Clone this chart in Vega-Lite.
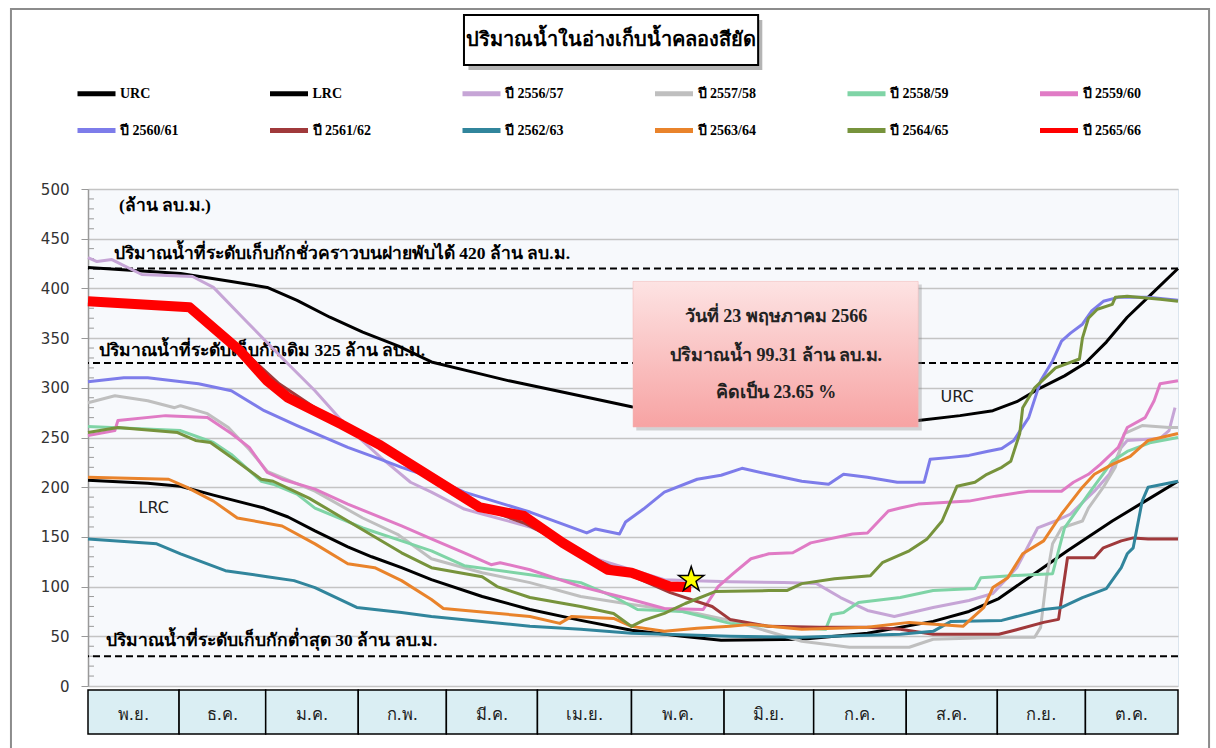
{
  "$schema": "https://vega.github.io/schema/vega-lite/v6.json",
  "padding": {"left": 9, "top": 7, "right": 0, "bottom": 0},
  "background": "white",
  "config": {"view": {"stroke": null}, "font": "DejaVu Sans"},
  "datasets": {
    "series": [
      {"s":"URC","d":0,"v":421},{"s":"URC","d":31,"v":415},{"s":"URC","d":48,"v":407},{"s":"URC","d":60,"v":401},{"s":"URC","d":70,"v":388},{"s":"URC","d":81,"v":371},{"s":"URC","d":92,"v":356},{"s":"URC","d":104,"v":342},{"s":"URC","d":115,"v":326},{"s":"URC","d":130,"v":315},{"s":"URC","d":141,"v":307},{"s":"URC","d":160,"v":295},{"s":"URC","d":182,"v":281},{"s":"URC","d":200,"v":274},{"s":"URC","d":230,"v":268},{"s":"URC","d":260,"v":264},{"s":"URC","d":278,"v":267},{"s":"URC","d":292,"v":272},{"s":"URC","d":303,"v":277},{"s":"URC","d":311,"v":286},{"s":"URC","d":319,"v":300},{"s":"URC","d":327,"v":312},{"s":"URC","d":334,"v":325},{"s":"URC","d":341,"v":346},{"s":"URC","d":348,"v":371},{"s":"URC","d":356,"v":394},{"s":"URC","d":365,"v":420},
      {"s":"LRC","d":0,"v":207},{"s":"LRC","d":20,"v":204},{"s":"LRC","d":31,"v":201},{"s":"LRC","d":42,"v":192},{"s":"LRC","d":59,"v":179},{"s":"LRC","d":67,"v":170},{"s":"LRC","d":76,"v":156},{"s":"LRC","d":87,"v":140},{"s":"LRC","d":95,"v":130},{"s":"LRC","d":105,"v":119},{"s":"LRC","d":115,"v":107},{"s":"LRC","d":132,"v":90},{"s":"LRC","d":148,"v":77},{"s":"LRC","d":165,"v":66},{"s":"LRC","d":182,"v":56},{"s":"LRC","d":199,"v":50},{"s":"LRC","d":212,"v":46},{"s":"LRC","d":239,"v":47},{"s":"LRC","d":261,"v":53},{"s":"LRC","d":283,"v":65},{"s":"LRC","d":295,"v":75},{"s":"LRC","d":305,"v":88},{"s":"LRC","d":315,"v":109},{"s":"LRC","d":328,"v":136},{"s":"LRC","d":343,"v":166},{"s":"LRC","d":354,"v":186},{"s":"LRC","d":365,"v":206},
      {"s":"ปี 2556/57","d":0,"v":431},{"s":"ปี 2556/57","d":3,"v":427},{"s":"ปี 2556/57","d":8,"v":429},{"s":"ปี 2556/57","d":18,"v":414},{"s":"ปี 2556/57","d":35,"v":412},{"s":"ปี 2556/57","d":42,"v":401},{"s":"ปี 2556/57","d":53,"v":367},{"s":"ปี 2556/57","d":65,"v":330},{"s":"ปี 2556/57","d":76,"v":297},{"s":"ปี 2556/57","d":87,"v":260},{"s":"ปี 2556/57","d":98,"v":230},{"s":"ปี 2556/57","d":108,"v":205},{"s":"ปี 2556/57","d":115,"v":195},{"s":"ปี 2556/57","d":126,"v":178},{"s":"ปี 2556/57","d":132,"v":173},{"s":"ปี 2556/57","d":148,"v":160},{"s":"ปี 2556/57","d":160,"v":145},{"s":"ปี 2556/57","d":171,"v":127},{"s":"ปี 2556/57","d":182,"v":117},{"s":"ปี 2556/57","d":193,"v":107},{"s":"ปี 2556/57","d":203,"v":106},{"s":"ปี 2556/57","d":215,"v":105},{"s":"ปี 2556/57","d":233,"v":104},{"s":"ปี 2556/57","d":244,"v":103},{"s":"ปี 2556/57","d":252,"v":89},{"s":"ปี 2556/57","d":261,"v":76},{"s":"ปี 2556/57","d":270,"v":70},{"s":"ปี 2556/57","d":283,"v":79},{"s":"ปี 2556/57","d":295,"v":86},{"s":"ปี 2556/57","d":303,"v":93},{"s":"ปี 2556/57","d":311,"v":119},{"s":"ปี 2556/57","d":318,"v":159},{"s":"ปี 2556/57","d":324,"v":166},{"s":"ปี 2556/57","d":329,"v":173},{"s":"ปี 2556/57","d":337,"v":196},{"s":"ปี 2556/57","d":342,"v":213},{"s":"ปี 2556/57","d":346,"v":240},{"s":"ปี 2556/57","d":348,"v":247},{"s":"ปี 2556/57","d":359,"v":249},{"s":"ปี 2556/57","d":362,"v":257},{"s":"ปี 2556/57","d":364,"v":280},
      {"s":"ปี 2557/58","d":0,"v":285},{"s":"ปี 2557/58","d":9,"v":292},{"s":"ปี 2557/58","d":20,"v":287},{"s":"ปี 2557/58","d":29,"v":280},{"s":"ปี 2557/58","d":31,"v":282},{"s":"ปี 2557/58","d":40,"v":274},{"s":"ปี 2557/58","d":47,"v":260},{"s":"ปี 2557/58","d":54,"v":238},{"s":"ปี 2557/58","d":60,"v":216},{"s":"ปี 2557/58","d":76,"v":196},{"s":"ปี 2557/58","d":92,"v":169},{"s":"ปี 2557/58","d":104,"v":152},{"s":"ปี 2557/58","d":115,"v":128},{"s":"ปี 2557/58","d":132,"v":114},{"s":"ปี 2557/58","d":148,"v":104},{"s":"ปี 2557/58","d":165,"v":90},{"s":"ปี 2557/58","d":182,"v":82},{"s":"ปี 2557/58","d":204,"v":73},{"s":"ปี 2557/58","d":215,"v":66},{"s":"ปี 2557/58","d":222,"v":60},{"s":"ปี 2557/58","d":239,"v":45},{"s":"ปี 2557/58","d":255,"v":39},{"s":"ปี 2557/58","d":275,"v":39},{"s":"ปี 2557/58","d":283,"v":47},{"s":"ปี 2557/58","d":306,"v":49},{"s":"ปี 2557/58","d":317,"v":49},{"s":"ปี 2557/58","d":319,"v":59},{"s":"ปี 2557/58","d":321,"v":109},{"s":"ปี 2557/58","d":323,"v":143},{"s":"ปี 2557/58","d":326,"v":159},{"s":"ปี 2557/58","d":333,"v":166},{"s":"ปี 2557/58","d":335,"v":179},{"s":"ปี 2557/58","d":340,"v":200},{"s":"ปี 2557/58","d":344,"v":220},{"s":"ปี 2557/58","d":347,"v":254},{"s":"ปี 2557/58","d":353,"v":262},{"s":"ปี 2557/58","d":362,"v":260},{"s":"ปี 2557/58","d":365,"v":260},
      {"s":"ปี 2558/59","d":0,"v":261},{"s":"ปี 2558/59","d":31,"v":257},{"s":"ปี 2558/59","d":42,"v":245},{"s":"ปี 2558/59","d":48,"v":233},{"s":"ปี 2558/59","d":58,"v":206},{"s":"ปี 2558/59","d":62,"v":203},{"s":"ปี 2558/59","d":70,"v":193},{"s":"ปี 2558/59","d":76,"v":179},{"s":"ปี 2558/59","d":92,"v":159},{"s":"ปี 2558/59","d":105,"v":146},{"s":"ปี 2558/59","d":115,"v":136},{"s":"ปี 2558/59","d":126,"v":121},{"s":"ปี 2558/59","d":148,"v":112},{"s":"ปี 2558/59","d":165,"v":104},{"s":"ปี 2558/59","d":176,"v":90},{"s":"ปี 2558/59","d":184,"v":77},{"s":"ปี 2558/59","d":199,"v":75},{"s":"ปี 2558/59","d":215,"v":63},{"s":"ปี 2558/59","d":228,"v":60},{"s":"ปี 2558/59","d":247,"v":57},{"s":"ปี 2558/59","d":249,"v":72},{"s":"ปี 2558/59","d":253,"v":74},{"s":"ปี 2558/59","d":258,"v":84},{"s":"ปี 2558/59","d":272,"v":89},{"s":"ปี 2558/59","d":283,"v":96},{"s":"ปี 2558/59","d":297,"v":98},{"s":"ปี 2558/59","d":299,"v":109},{"s":"ปี 2558/59","d":309,"v":111},{"s":"ปี 2558/59","d":323,"v":113},{"s":"ปี 2558/59","d":327,"v":159},{"s":"ปี 2558/59","d":335,"v":193},{"s":"ปี 2558/59","d":343,"v":226},{"s":"ปี 2558/59","d":348,"v":236},{"s":"ปี 2558/59","d":356,"v":245},{"s":"ปี 2558/59","d":365,"v":250},
      {"s":"ปี 2559/60","d":0,"v":252},{"s":"ปี 2559/60","d":9,"v":257},{"s":"ปี 2559/60","d":10,"v":267},{"s":"ปี 2559/60","d":26,"v":272},{"s":"ปี 2559/60","d":40,"v":270},{"s":"ปี 2559/60","d":48,"v":254},{"s":"ปี 2559/60","d":54,"v":240},{"s":"ปี 2559/60","d":60,"v":215},{"s":"ปี 2559/60","d":65,"v":208},{"s":"ปี 2559/60","d":76,"v":198},{"s":"ปี 2559/60","d":87,"v":183},{"s":"ปี 2559/60","d":105,"v":161},{"s":"ปี 2559/60","d":115,"v":148},{"s":"ปี 2559/60","d":126,"v":134},{"s":"ปี 2559/60","d":135,"v":122},{"s":"ปี 2559/60","d":138,"v":124},{"s":"ปี 2559/60","d":148,"v":117},{"s":"ปี 2559/60","d":165,"v":100},{"s":"ปี 2559/60","d":182,"v":87},{"s":"ปี 2559/60","d":193,"v":78},{"s":"ปี 2559/60","d":206,"v":77},{"s":"ปี 2559/60","d":211,"v":100},{"s":"ปี 2559/60","d":216,"v":113},{"s":"ปี 2559/60","d":222,"v":128},{"s":"ปี 2559/60","d":228,"v":133},{"s":"ปี 2559/60","d":236,"v":134},{"s":"ปี 2559/60","d":242,"v":144},{"s":"ปี 2559/60","d":256,"v":153},{"s":"ปี 2559/60","d":261,"v":154},{"s":"ปี 2559/60","d":268,"v":176},{"s":"ปี 2559/60","d":272,"v":179},{"s":"ปี 2559/60","d":278,"v":183},{"s":"ปี 2559/60","d":295,"v":186},{"s":"ปี 2559/60","d":304,"v":191},{"s":"ปี 2559/60","d":315,"v":196},{"s":"ปี 2559/60","d":326,"v":196},{"s":"ปี 2559/60","d":330,"v":205},{"s":"ปี 2559/60","d":335,"v":213},{"s":"ปี 2559/60","d":339,"v":223},{"s":"ปี 2559/60","d":345,"v":240},{"s":"ปี 2559/60","d":348,"v":260},{"s":"ปี 2559/60","d":354,"v":270},{"s":"ปี 2559/60","d":357,"v":287},{"s":"ปี 2559/60","d":359,"v":304},{"s":"ปี 2559/60","d":365,"v":307},
      {"s":"ปี 2560/61","d":0,"v":306},{"s":"ปี 2560/61","d":12,"v":310},{"s":"ปี 2560/61","d":20,"v":310},{"s":"ปี 2560/61","d":37,"v":304},{"s":"ปี 2560/61","d":48,"v":297},{"s":"ปี 2560/61","d":59,"v":277},{"s":"ปี 2560/61","d":70,"v":262},{"s":"ปี 2560/61","d":87,"v":240},{"s":"ปี 2560/61","d":98,"v":228},{"s":"ปี 2560/61","d":105,"v":220},{"s":"ปี 2560/61","d":115,"v":210},{"s":"ปี 2560/61","d":126,"v":195},{"s":"ปี 2560/61","d":148,"v":175},{"s":"ปี 2560/61","d":167,"v":154},{"s":"ปี 2560/61","d":170,"v":158},{"s":"ปี 2560/61","d":178,"v":153},{"s":"ปี 2560/61","d":180,"v":165},{"s":"ปี 2560/61","d":186,"v":178},{"s":"ปี 2560/61","d":193,"v":195},{"s":"ปี 2560/61","d":204,"v":208},{"s":"ปี 2560/61","d":212,"v":212},{"s":"ปี 2560/61","d":219,"v":219},{"s":"ปี 2560/61","d":228,"v":213},{"s":"ปี 2560/61","d":239,"v":206},{"s":"ปี 2560/61","d":248,"v":203},{"s":"ปี 2560/61","d":253,"v":213},{"s":"ปี 2560/61","d":261,"v":210},{"s":"ปี 2560/61","d":271,"v":205},{"s":"ปี 2560/61","d":280,"v":205},{"s":"ปี 2560/61","d":282,"v":228},{"s":"ปี 2560/61","d":289,"v":230},{"s":"ปี 2560/61","d":295,"v":232},{"s":"ปี 2560/61","d":301,"v":236},{"s":"ปี 2560/61","d":306,"v":239},{"s":"ปี 2560/61","d":310,"v":247},{"s":"ปี 2560/61","d":315,"v":270},{"s":"ปี 2560/61","d":319,"v":307},{"s":"ปี 2560/61","d":323,"v":327},{"s":"ปี 2560/61","d":326,"v":347},{"s":"ปี 2560/61","d":329,"v":355},{"s":"ปี 2560/61","d":333,"v":364},{"s":"ปี 2560/61","d":336,"v":377},{"s":"ปี 2560/61","d":340,"v":387},{"s":"ปี 2560/61","d":345,"v":391},{"s":"ปี 2560/61","d":355,"v":391},{"s":"ปี 2560/61","d":365,"v":388},
      {"s":"ปี 2561/62","d":0,"v":386},{"s":"ปี 2561/62","d":34,"v":380},{"s":"ปี 2561/62","d":51,"v":340},{"s":"ปี 2561/62","d":64,"v":304},{"s":"ปี 2561/62","d":76,"v":280},{"s":"ปี 2561/62","d":85,"v":263},{"s":"ปี 2561/62","d":98,"v":242},{"s":"ปี 2561/62","d":115,"v":210},{"s":"ปี 2561/62","d":131,"v":180},{"s":"ปี 2561/62","d":146,"v":164},{"s":"ปี 2561/62","d":165,"v":134},{"s":"ปี 2561/62","d":182,"v":111},{"s":"ปี 2561/62","d":195,"v":94},{"s":"ปี 2561/62","d":209,"v":80},{"s":"ปี 2561/62","d":215,"v":67},{"s":"ปี 2561/62","d":228,"v":60},{"s":"ปี 2561/62","d":245,"v":59},{"s":"ปี 2561/62","d":261,"v":59},{"s":"ปี 2561/62","d":272,"v":57},{"s":"ปี 2561/62","d":283,"v":52},{"s":"ปี 2561/62","d":305,"v":52},{"s":"ปี 2561/62","d":309,"v":55},{"s":"ปี 2561/62","d":320,"v":64},{"s":"ปี 2561/62","d":325,"v":67},{"s":"ปี 2561/62","d":328,"v":129},{"s":"ปี 2561/62","d":337,"v":129},{"s":"ปี 2561/62","d":340,"v":139},{"s":"ปี 2561/62","d":346,"v":146},{"s":"ปี 2561/62","d":350,"v":149},{"s":"ปี 2561/62","d":355,"v":148},{"s":"ปี 2561/62","d":365,"v":148},
      {"s":"ปี 2562/63","d":0,"v":148},{"s":"ปี 2562/63","d":23,"v":143},{"s":"ปี 2562/63","d":31,"v":133},{"s":"ปี 2562/63","d":46,"v":116},{"s":"ปี 2562/63","d":60,"v":110},{"s":"ปี 2562/63","d":69,"v":106},{"s":"ปี 2562/63","d":76,"v":99},{"s":"ปี 2562/63","d":90,"v":79},{"s":"ปี 2562/63","d":105,"v":74},{"s":"ปี 2562/63","d":115,"v":70},{"s":"ปี 2562/63","d":132,"v":65},{"s":"ปี 2562/63","d":148,"v":60},{"s":"ปี 2562/63","d":165,"v":57},{"s":"ปี 2562/63","d":182,"v":53},{"s":"ปี 2562/63","d":215,"v":50},{"s":"ปี 2562/63","d":239,"v":49},{"s":"ปี 2562/63","d":272,"v":52},{"s":"ปี 2562/63","d":283,"v":55},{"s":"ปี 2562/63","d":289,"v":65},{"s":"ปี 2562/63","d":306,"v":66},{"s":"ปี 2562/63","d":320,"v":77},{"s":"ปี 2562/63","d":326,"v":79},{"s":"ปี 2562/63","d":333,"v":89},{"s":"ปี 2562/63","d":341,"v":98},{"s":"ปี 2562/63","d":346,"v":119},{"s":"ปี 2562/63","d":348,"v":133},{"s":"ปี 2562/63","d":350,"v":139},{"s":"ปี 2562/63","d":353,"v":186},{"s":"ปี 2562/63","d":355,"v":200},{"s":"ปี 2562/63","d":365,"v":206},
      {"s":"ปี 2563/64","d":0,"v":210},{"s":"ปี 2563/64","d":27,"v":208},{"s":"ปี 2563/64","d":33,"v":200},{"s":"ปี 2563/64","d":42,"v":186},{"s":"ปี 2563/64","d":50,"v":169},{"s":"ปี 2563/64","d":65,"v":161},{"s":"ปี 2563/64","d":76,"v":143},{"s":"ปี 2563/64","d":87,"v":123},{"s":"ปี 2563/64","d":96,"v":119},{"s":"ปี 2563/64","d":105,"v":106},{"s":"ปี 2563/64","d":115,"v":87},{"s":"ปี 2563/64","d":119,"v":78},{"s":"ปี 2563/64","d":148,"v":70},{"s":"ปี 2563/64","d":158,"v":63},{"s":"ปี 2563/64","d":162,"v":70},{"s":"ปี 2563/64","d":176,"v":68},{"s":"ปี 2563/64","d":182,"v":60},{"s":"ปี 2563/64","d":193,"v":55},{"s":"ปี 2563/64","d":204,"v":58},{"s":"ปี 2563/64","d":215,"v":60},{"s":"ปี 2563/64","d":222,"v":62},{"s":"ปี 2563/64","d":239,"v":57},{"s":"ปี 2563/64","d":261,"v":59},{"s":"ปี 2563/64","d":275,"v":64},{"s":"ปี 2563/64","d":293,"v":60},{"s":"ปี 2563/64","d":300,"v":79},{"s":"ปี 2563/64","d":303,"v":99},{"s":"ปี 2563/64","d":308,"v":109},{"s":"ปี 2563/64","d":313,"v":133},{"s":"ปี 2563/64","d":320,"v":146},{"s":"ปี 2563/64","d":326,"v":173},{"s":"ปี 2563/64","d":333,"v":200},{"s":"ปี 2563/64","d":337,"v":213},{"s":"ปี 2563/64","d":343,"v":223},{"s":"ปี 2563/64","d":349,"v":231},{"s":"ปี 2563/64","d":355,"v":247},{"s":"ปี 2563/64","d":365,"v":254},
      {"s":"ปี 2564/65","d":0,"v":255},{"s":"ปี 2564/65","d":10,"v":260},{"s":"ปี 2564/65","d":30,"v":255},{"s":"ปี 2564/65","d":36,"v":247},{"s":"ปี 2564/65","d":41,"v":245},{"s":"ปี 2564/65","d":48,"v":230},{"s":"ปี 2564/65","d":58,"v":208},{"s":"ปี 2564/65","d":62,"v":206},{"s":"ปี 2564/65","d":74,"v":189},{"s":"ปี 2564/65","d":87,"v":166},{"s":"ปี 2564/65","d":105,"v":134},{"s":"ปี 2564/65","d":115,"v":119},{"s":"ปี 2564/65","d":132,"v":110},{"s":"ปี 2564/65","d":137,"v":100},{"s":"ปี 2564/65","d":148,"v":89},{"s":"ปี 2564/65","d":165,"v":80},{"s":"ปี 2564/65","d":176,"v":73},{"s":"ปี 2564/65","d":182,"v":60},{"s":"ปี 2564/65","d":186,"v":66},{"s":"ปี 2564/65","d":193,"v":73},{"s":"ปี 2564/65","d":200,"v":83},{"s":"ปี 2564/65","d":210,"v":95},{"s":"ปี 2564/65","d":228,"v":96},{"s":"ปี 2564/65","d":234,"v":96},{"s":"ปี 2564/65","d":239,"v":103},{"s":"ปี 2564/65","d":250,"v":108},{"s":"ปี 2564/65","d":262,"v":111},{"s":"ปี 2564/65","d":266,"v":124},{"s":"ปี 2564/65","d":275,"v":136},{"s":"ปี 2564/65","d":281,"v":148},{"s":"ปี 2564/65","d":286,"v":166},{"s":"ปี 2564/65","d":291,"v":201},{"s":"ปี 2564/65","d":297,"v":205},{"s":"ปี 2564/65","d":301,"v":213},{"s":"ปี 2564/65","d":306,"v":220},{"s":"ปี 2564/65","d":309,"v":226},{"s":"ปี 2564/65","d":312,"v":254},{"s":"ปี 2564/65","d":313,"v":280},{"s":"ปี 2564/65","d":317,"v":300},{"s":"ปี 2564/65","d":324,"v":320},{"s":"ปี 2564/65","d":332,"v":329},{"s":"ปี 2564/65","d":333,"v":350},{"s":"ปี 2564/65","d":335,"v":370},{"s":"ปี 2564/65","d":338,"v":379},{"s":"ปี 2564/65","d":343,"v":384},{"s":"ปี 2564/65","d":344,"v":391},{"s":"ปี 2564/65","d":348,"v":392},{"s":"ปี 2564/65","d":359,"v":389},{"s":"ปี 2564/65","d":365,"v":387},
      {"s":"ปี 2565/66","d":0,"v":387},{"s":"ปี 2565/66","d":34,"v":381},{"s":"ปี 2565/66","d":51,"v":337},{"s":"ปี 2565/66","d":60,"v":307},{"s":"ปี 2565/66","d":67,"v":290},{"s":"ปี 2565/66","d":85,"v":263},{"s":"ปี 2565/66","d":98,"v":242},{"s":"ปี 2565/66","d":115,"v":210},{"s":"ปี 2565/66","d":131,"v":180},{"s":"ปี 2565/66","d":146,"v":171},{"s":"ปี 2565/66","d":159,"v":144},{"s":"ปี 2565/66","d":174,"v":117},{"s":"ปี 2565/66","d":182,"v":114},{"s":"ปี 2565/66","d":195,"v":100},{"s":"ปี 2565/66","d":202,"v":99.31}
    ],
    "minor": [
      {"v":10},{"v":20},{"v":30},{"v":40},{"v":60},{"v":70},{"v":80},{"v":90},{"v":110},{"v":120},{"v":130},{"v":140},{"v":160},{"v":170},{"v":180},{"v":190},{"v":210},{"v":220},{"v":230},{"v":240},{"v":260},{"v":270},{"v":280},{"v":290},{"v":310},{"v":320},{"v":330},{"v":340},{"v":360},{"v":370},{"v":380},{"v":390},{"v":410},{"v":420},{"v":430},{"v":440},{"v":460},{"v":470},{"v":480},{"v":490}
    ],
    "refs": [{"v":420},{"v":325},{"v":30}],
    "months": [
      {"m":"พ.ย.","start":0,"end":30.5},{"m":"ธ.ค.","start":30.5,"end":59.5},{"m":"ม.ค.","start":59.5,"end":90.5},{"m":"ก.พ.","start":90.5,"end":120},{"m":"มี.ค.","start":120,"end":150.5},{"m":"เม.ย.","start":150.5,"end":182},{"m":"พ.ค.","start":182,"end":213},{"m":"มิ.ย.","start":213,"end":243},{"m":"ก.ค.","start":243,"end":274},{"m":"ส.ค.","start":274,"end":304.5},{"m":"ก.ย.","start":304.5,"end":334},{"m":"ต.ค.","start":334,"end":365}
    ],
    "star": [{"d":202,"v":107}]
  },
  "vconcat": [
    {
      "width": 1090, "height": 170,
      "data": {"values": [{"t":"ปริมาณน้ำในอ่างเก็บน้ำคลองสียัด"}]},
      "layer": [
        {"mark": {"type":"rect","fill":null,"filled":false,"stroke":"#8c8c8c","strokeWidth":2},
         "encoding": {"x":{"datum":-25.8,"type":"quantitative","scale":{"domain":[0,365],"nice":false,"zero":false},"axis":null},"x2":{"datum":375.4},"y":{"datum":-118,"type":"quantitative","scale":{"domain":[0,34],"nice":false,"zero":false},"axis":null},"y2":{"datum":35.2}}},
        {"mark": {"type":"rect","fill":"#777777","opacity":0.55},
         "encoding": {"x":{"datum":127.4,"type":"quantitative"},"x2":{"datum":225.8},"y":{"datum":23,"type":"quantitative"},"y2":{"datum":33}}},
        {"mark": {"type":"rect","fill":"white","stroke":"black","strokeWidth":2},
         "encoding": {"x":{"datum":125.9,"type":"quantitative"},"x2":{"datum":224.4},"y":{"datum":24,"type":"quantitative"},"y2":{"datum":34}}},
        {"mark": {"type":"text","fontSize":20,"fontWeight":"bold","font":"Liberation Serif","color":"#000000","baseline":"middle"},
         "encoding": {"x":{"datum":175.2,"type":"quantitative"},"y":{"datum":29,"type":"quantitative"},"text":{"field":"t"}}}
      ]
    },
    {
      "width": 1090, "height": 497,
      "view": {"fill": "#f7f9fc", "stroke": "#dbe5ee"},
      "data": {"values": [{"one": 1}]},
      "layer": [
        {"data": {"name":"minor"},
         "mark": {"type":"rule","color":"#9a9a9a","strokeWidth":1},
         "encoding": {
           "x":{"datum":0,"type":"quantitative","scale":{"domain":[0,365],"nice":false,"zero":false},"axis":null},
           "x2":{"datum":2},
           "y":{"field":"v","type":"quantitative","scale":{"domain":[0,500],"nice":false},"axis":{"values":[0,50,100,150,200,250,300,350,400,450,500],"title":null,"grid":true,"gridColor":"#c4c4c4","gridWidth":1.5,"tickSize":7,"tickColor":"#999999","domainColor":"#999999","domainWidth":1.5,"labelFont":"DejaVu Sans","labelFontSize":15,"labelColor":"#333333","labelPadding":12}}}},
        {"data": {"name":"refs"},
         "mark": {"type":"rule","color":"black","strokeWidth":2,"strokeDash":[7,4]},
         "encoding": {"y":{"field":"v","type":"quantitative"}}},
        {"mark": {"type":"text","text":"ปริมาณน้ำที่ระดับเก็บกักชั่วคราวบนฝายพับได้ 420 ล้าน ลบ.ม.","align":"left","baseline":"middle","fontSize":17.5,"fontWeight":"bold","font":"Liberation Serif","color":"#000"},
         "encoding": {"x":{"datum":8.7,"type":"quantitative"},"y":{"datum":435,"type":"quantitative"}}},
        {"mark": {"type":"text","text":"ปริมาณน้ำที่ระดับเก็บกักเดิม 325 ล้าน ลบ.ม.","align":"left","baseline":"middle","fontSize":17.5,"fontWeight":"bold","font":"Liberation Serif","color":"#000"},
         "encoding": {"x":{"datum":3.7,"type":"quantitative"},"y":{"datum":337,"type":"quantitative"}}},
        {"mark": {"type":"text","text":"ปริมาณน้ำที่ระดับเก็บกักต่ำสุด 30 ล้าน ลบ.ม.","align":"left","baseline":"middle","fontSize":17.5,"fontWeight":"bold","font":"Liberation Serif","color":"#000"},
         "encoding": {"x":{"datum":6,"type":"quantitative"},"y":{"datum":45,"type":"quantitative"}}},
        {"mark": {"type":"text","text":"(ล้าน ลบ.ม.)","align":"left","baseline":"middle","fontSize":17.5,"fontWeight":"bold","font":"Liberation Serif","color":"#000"},
         "encoding": {"x":{"datum":10.4,"type":"quantitative"},"y":{"datum":483,"type":"quantitative"}}},
        {"data": {"name":"series"},
         "mark": {"type":"line","strokeJoin":"round"},
         "encoding": {
           "x":{"field":"d","type":"quantitative"},
           "y":{"field":"v","type":"quantitative"},
           "color":{"field":"s","type":"nominal","scale":{"domain":["URC","LRC","ปี 2556/57","ปี 2557/58","ปี 2558/59","ปี 2559/60","ปี 2560/61","ปี 2561/62","ปี 2562/63","ปี 2563/64","ปี 2564/65","ปี 2565/66"],"range":["#000000","#000000","#c6a5d6","#bfbfbf","#7fd4a6","#e07bc5","#7d7cea","#a0393b","#31859c","#e9832b","#77933c","#ff0000"]},
             "legend":{"orient":"none","legendX":-13,"legendY":-117,"direction":"horizontal","columns":6,"gridAlign":"all","columnPadding":80.5,"rowPadding":5,"symbolType":"stroke","symbolSize":1444,"symbolStrokeWidth":5,"labelFont":"Liberation Serif","labelFontWeight":"bold","labelFontSize":14,"labelColor":"#000","labelOffset":2,"title":null}},
           "strokeWidth":{"condition":{"test":"datum.s === 'ปี 2565/66'","value":10},"value":3}
         }},
        {"mark": {"type":"rect","fill":"#8a8a8a","opacity":0.35},
         "encoding": {"x":{"datum":183.6,"type":"quantitative"},"x2":{"datum":279.2},"y":{"datum":257,"type":"quantitative"},"y2":{"datum":404}}},
        {"mark": {"type":"rect","stroke":"#f3b5b5","strokeWidth":0.5,"fill":{"gradient":"linear","x1":0,"y1":0,"x2":0,"y2":1,"stops":[{"offset":0,"color":"#fde3e3"},{"offset":1,"color":"#f7a3a3"}]}},
         "encoding": {"x":{"datum":182.5,"type":"quantitative"},"x2":{"datum":278},"y":{"datum":260.5,"type":"quantitative"},"y2":{"datum":407}}},
        {"mark": {"type":"text","text":"วันที่ 23 พฤษภาคม 2566","align":"center","baseline":"middle","fontSize":18,"fontWeight":"bold","font":"Liberation Serif","color":"#222"},
         "encoding": {"x":{"datum":230.4,"type":"quantitative"},"y":{"datum":371,"type":"quantitative"}}},
        {"mark": {"type":"text","text":"ปริมาณน้ำ 99.31 ล้าน ลบ.ม.","align":"center","baseline":"middle","fontSize":18,"fontWeight":"bold","font":"Liberation Serif","color":"#222"},
         "encoding": {"x":{"datum":230.4,"type":"quantitative"},"y":{"datum":332,"type":"quantitative"}}},
        {"mark": {"type":"text","text":"คิดเป็น 23.65 %","align":"center","baseline":"middle","fontSize":18,"fontWeight":"bold","font":"Liberation Serif","color":"#222"},
         "encoding": {"x":{"datum":230.4,"type":"quantitative"},"y":{"datum":295,"type":"quantitative"}}},
        {"mark": {"type":"text","text":"URC","align":"center","baseline":"middle","fontSize":16,"font":"DejaVu Sans","color":"#222"},
         "encoding": {"x":{"datum":291,"type":"quantitative"},"y":{"datum":291,"type":"quantitative"}}},
        {"mark": {"type":"text","text":"LRC","align":"center","baseline":"middle","fontSize":16,"font":"DejaVu Sans","color":"#222"},
         "encoding": {"x":{"datum":22,"type":"quantitative"},"y":{"datum":179,"type":"quantitative"}}},
        {"data": {"name":"star"},
         "mark": {"type":"point","shape":"M0,-1L0.2245,-0.309L0.951,-0.309L0.363,0.118L0.588,0.809L0,0.382L-0.588,0.809L-0.363,0.118L-0.951,-0.309L-0.2245,-0.309Z","filled":true,"fill":"#ffff00","stroke":"#000000","strokeWidth":1.5,"size":700,"opacity":1},
         "encoding": {"x":{"field":"d","type":"quantitative"},"y":{"field":"v","type":"quantitative"}}}
      ]
    },
    {
      "width": 1090, "height": 44,
      "data": {"name":"months"},
      "transform": [{"calculate":"(datum.start+datum.end)/2","as":"mid"}],
      "layer": [
        {"mark": {"type":"rect","fill":"#daeef3","stroke":"#000000","strokeWidth":1.5},
         "encoding": {"x":{"field":"start","type":"quantitative","scale":{"domain":[0,365],"nice":false,"zero":false},"axis":null},"x2":{"field":"end"}}},
        {"mark": {"type":"text","fontSize":16.5,"font":"DejaVu Sans","color":"#222","baseline":"middle","dy":3},
         "encoding": {"x":{"field":"mid","type":"quantitative"},"text":{"field":"m"}}}
      ]
    }
  ],
  "spacing": 4,
  "bounds": "flush",
  "resolve": {"scale": {"color": "independent", "x": "independent", "y": "independent"}}
}
